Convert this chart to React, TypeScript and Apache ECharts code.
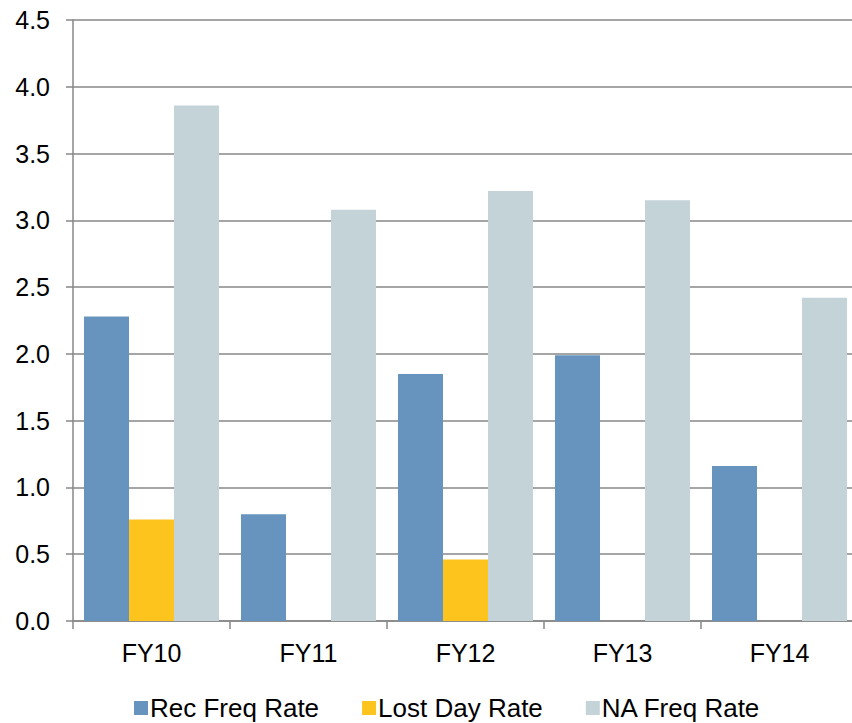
import React, { useEffect, useRef } from "react";
import * as echarts from "echarts";

const categories = ["FY10", "FY11", "FY12", "FY13", "FY14"];
const recFreqRate = [2.28, 0.8, 1.85, 1.99, 1.16];
const lostDayRate = [0.76, null, 0.46, null, null];
const naFreqRate = [3.86, 3.08, 3.22, 3.15, 2.42];
const yTicks = { min: 0, max: 4.5, interval: 0.5 };

const FONT = "'Liberation Sans', Arial, sans-serif";

export default function App() {
  const ref = useRef<HTMLDivElement>(null);
  useEffect(() => {
    if (!ref.current) return;
    const chart = echarts.init(ref.current, null, { renderer: "svg" });
    chart.setOption({
      animation: false,
      backgroundColor: "#ffffff",
      textStyle: { fontFamily: FONT },
      grid: { left: 73, right: 0, top: 20, bottom: 102, containLabel: false },
      legend: {
        left: 129,
        top: 690,
        itemWidth: 14,
        itemHeight: 14,
        itemGap: 43,
        icon: "rect",
        textStyle: { fontSize: 26, color: "#000", fontFamily: FONT, padding: [0, 0, 0, -3] },
        data: ["Rec Freq Rate", "Lost Day Rate", "NA Freq Rate"],
      },
      xAxis: {
        type: "category",
        data: categories,
        axisLine: { show: true, lineStyle: { color: "#878787", width: 1.5 } },
        axisTick: { show: true, alignWithLabel: false, length: 8, lineStyle: { color: "#878787", width: 1.5 } },
        axisLabel: { fontSize: 25, color: "#000", margin: 19, fontFamily: FONT },
      },
      yAxis: {
        type: "value",
        min: yTicks.min,
        max: yTicks.max,
        interval: yTicks.interval,
        axisLine: { show: true, lineStyle: { color: "#878787", width: 1.5 } },
        axisTick: { show: true, length: 7, lineStyle: { color: "#878787", width: 1.5 } },
        splitLine: { show: true, lineStyle: { color: "#878787", width: 1.5 } },
        axisLabel: {
          fontSize: 25,
          color: "#000",
          margin: 23,
          fontFamily: FONT,
          formatter: (v: number) => v.toFixed(1),
        },
      },
      series: [
        {
          name: "Rec Freq Rate",
          type: "bar",
          data: recFreqRate,
          barGap: "0%",
          barCategoryGap: "14%",
          itemStyle: { color: "#6794BE" },
        },
        {
          name: "Lost Day Rate",
          type: "bar",
          data: lostDayRate,
          barGap: "0%",
          barCategoryGap: "14%",
          itemStyle: { color: "#FEC41E" },
        },
        {
          name: "NA Freq Rate",
          type: "bar",
          data: naFreqRate,
          barGap: "0%",
          barCategoryGap: "14%",
          itemStyle: { color: "#C3D3D8" },
        },
      ],
    });
    return () => chart.dispose();
  }, []);
  return (
    <div
      ref={ref}
      style={{ position: "fixed", left: 0, top: 0, width: 858, height: 723, background: "#fff" }}
    />
  );
}
